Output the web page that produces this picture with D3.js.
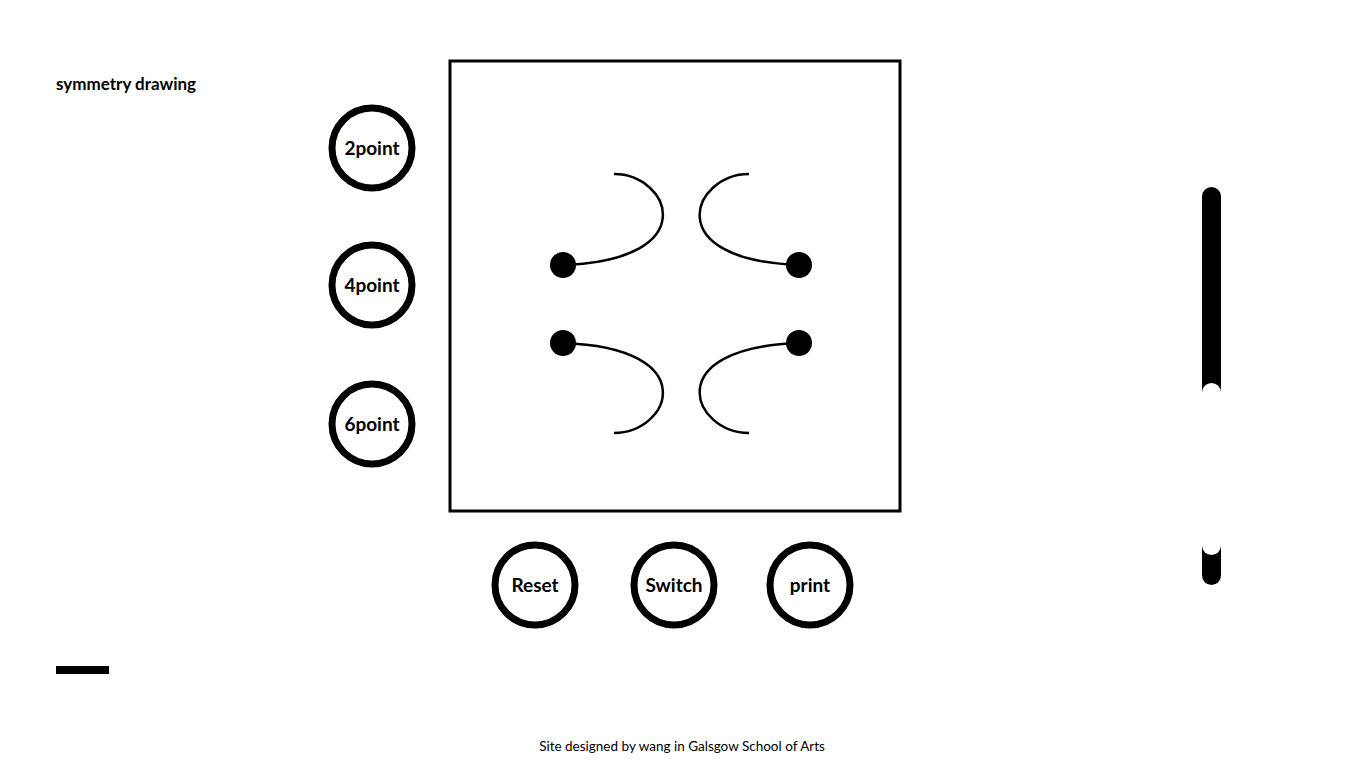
<!DOCTYPE html>
<html><head><meta charset="utf-8">
<script src="https://cdn.jsdelivr.net/npm/d3@7"></script>
<style>body{margin:0;background:#fff;font-family:Lato,sans-serif}</style>
</head><body><svg id="c" width="1366" height="768"></svg>
<script>
// side buttons and bottom buttons
const sideButtons = ["2point", "4point", "6point"];
const sideY = [148, 285, 424];
const bottomButtons = ["Reset", "Switch", "print"];
const bottomX = [535, 674, 810];
// strokes in the canvas: start point (dot), control points, end
const strokeStarts = [[563, 265], [799, 265], [563, 343], [799, 343]];
const strokeC1 = [[705, 260], [657, 260], [705, 348], [657, 348]];
const strokeC2 = [[670, 174], [693, 174], [670, 433], [693, 433]];
const strokeEnds = [[614, 174], [749, 174], [614, 433], [749, 433]];

const svg = d3.select("#c");

svg.append("text").attr("x", 56).attr("y", 90)
  .style("font-weight", "bold").style("font-size", "17px").text("symmetry drawing");

// canvas frame
svg.append("rect").attr("x", 450).attr("y", 61).attr("width", 450).attr("height", 450)
  .attr("fill", "none").attr("stroke", "#000").attr("stroke-width", 3);

const btn = (x, y, label) => {
  const g = svg.append("g").attr("transform", `translate(${x},${y})`);
  g.append("circle").attr("r", 40).attr("fill", "#fff").attr("stroke", "#000").attr("stroke-width", 7);
  g.append("text").attr("text-anchor", "middle").attr("dy", "0.35em")
    .style("font-weight", "bold").style("font-size", "19px").text(label);
};
sideButtons.forEach((l, i) => btn(372, sideY[i], l));
bottomButtons.forEach((l, i) => btn(bottomX[i], 585, l));

strokeStarts.forEach((s, i) => {
  const p = d3.path();
  p.moveTo(s[0], s[1]);
  p.bezierCurveTo(strokeC1[i][0], strokeC1[i][1], strokeC2[i][0], strokeC2[i][1], strokeEnds[i][0], strokeEnds[i][1]);
  svg.append("path").attr("d", p.toString()).attr("fill", "none").attr("stroke", "#000").attr("stroke-width", 2.5);
  svg.append("circle").attr("cx", s[0]).attr("cy", s[1]).attr("r", 13).attr("fill", "#000");
});

// slider
svg.append("rect").attr("x", 1202).attr("y", 187).attr("width", 19).attr("height", 398).attr("rx", 9.5).attr("fill", "#000");
svg.append("rect").attr("x", 1202).attr("y", 383).attr("width", 19).attr("height", 172).attr("rx", 9.5).attr("fill", "#fff");

svg.append("rect").attr("x", 56).attr("y", 666).attr("width", 53).attr("height", 8).attr("fill", "#000");

svg.append("text").attr("x", 682).attr("y", 751).attr("text-anchor", "middle")
  .style("font-size", "13.5px").text("Site designed by wang in Galsgow School of Arts");
</script></body></html>
